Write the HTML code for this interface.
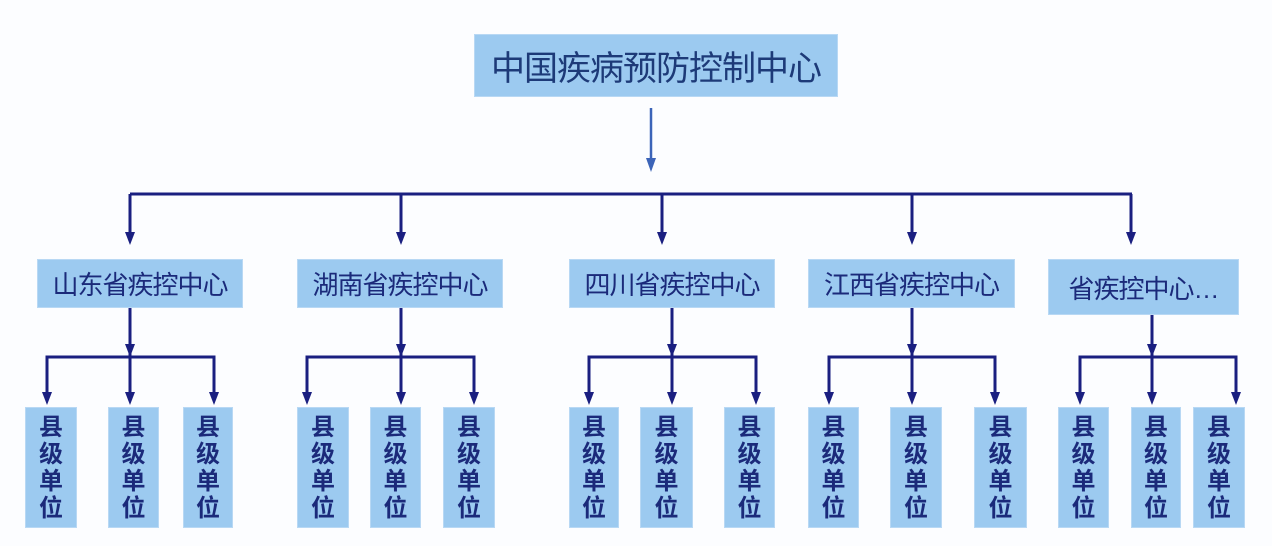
<!DOCTYPE html>
<html><head><meta charset="utf-8"><style>
body{margin:0;width:1272px;height:546px;background:#fcfdff;position:relative;overflow:hidden;font-family:"Liberation Sans","Noto Sans CJK SC",sans-serif}
.b{position:absolute;background:#9ccaf0;border:1px solid #b8d8f4;box-sizing:border-box;display:flex;align-items:center;justify-content:center;color:#1b2a7a;text-align:center}
.p{font-size:26px;letter-spacing:-1px}
.c{font-size:24px;font-weight:bold;line-height:27px;white-space:nowrap}
svg{position:absolute;left:0;top:0}
</style></head><body>
<svg width="1272" height="546">
<line x1="651" y1="108" x2="651" y2="160" stroke="#3c64b8" stroke-width="2.5"/>
<polygon points="646,158 656,158 651,172" fill="#3c64b8"/>
<g stroke="#1a1f80" stroke-width="3" fill="none">
<line x1="130" y1="194" x2="1132" y2="194"/>
<line x1="130" y1="194" x2="130" y2="235"/>
<line x1="401" y1="194" x2="401" y2="235"/>
<line x1="662" y1="194" x2="662" y2="235"/>
<line x1="912" y1="194" x2="912" y2="235"/>
<line x1="1131" y1="194" x2="1131" y2="235"/>
<line x1="130" y1="308" x2="130" y2="395"/>
<polyline points="47,395 47,357 214,357 214,395"/>
<line x1="401" y1="308" x2="401" y2="395"/>
<polyline points="307,395 307,357 474,357 474,395"/>
<line x1="672" y1="308" x2="672" y2="395"/>
<polyline points="589,395 589,357 756,357 756,395"/>
<line x1="912" y1="308" x2="912" y2="395"/>
<polyline points="829,395 829,357 995,357 995,395"/>
<line x1="1152" y1="315" x2="1152" y2="395"/>
<polyline points="1080,395 1080,357 1236,357 1236,395"/>
</g>
<g fill="#1a1f80">
<polygon points="125,232 135,232 130,245"/>
<polygon points="396,232 406,232 401,245"/>
<polygon points="657,232 667,232 662,245"/>
<polygon points="907,232 917,232 912,245"/>
<polygon points="1126,232 1136,232 1131,245"/>
<polygon points="125,344 135,344 130,357"/>
<polygon points="396,344 406,344 401,357"/>
<polygon points="667,344 677,344 672,357"/>
<polygon points="907,344 917,344 912,357"/>
<polygon points="1147,344 1157,344 1152,357"/>
<polygon points="42,392 52,392 47,405"/><polygon points="125,392 135,392 130,405"/><polygon points="209,392 219,392 214,405"/>
<polygon points="302,392 312,392 307,405"/><polygon points="396,392 406,392 401,405"/><polygon points="469,392 479,392 474,405"/>
<polygon points="584,392 594,392 589,405"/><polygon points="667,392 677,392 672,405"/><polygon points="751,392 761,392 756,405"/>
<polygon points="824,392 834,392 829,405"/><polygon points="907,392 917,392 912,405"/><polygon points="990,392 1000,392 995,405"/>
<polygon points="1075,392 1085,392 1080,405"/><polygon points="1147,392 1157,392 1152,405"/><polygon points="1231,392 1241,392 1236,405"/>
</g>
</svg>
<div class="b" style="left:474px;top:34px;width:364px;height:63px;font-size:34px;color:#1d3a78;letter-spacing:-1px">中国疾病预防控制中心</div>
<div class="b p" style="left:37px;top:259px;width:206px;height:49px">山东省疾控中心</div>
<div class="b p" style="left:297px;top:259px;width:206px;height:49px">湖南省疾控中心</div>
<div class="b p" style="left:569px;top:259px;width:206px;height:49px">四川省疾控中心</div>
<div class="b p" style="left:808px;top:259px;width:207px;height:49px">江西省疾控中心</div>
<div class="b p" style="left:1048px;top:259px;width:191px;height:56px">省疾控中心…</div>
<div class="b c" style="left:25px;top:407px;width:52px;height:121px">县<br>级<br>单<br>位</div>
<div class="b c" style="left:108px;top:407px;width:51px;height:121px">县<br>级<br>单<br>位</div>
<div class="b c" style="left:183px;top:407px;width:50px;height:121px">县<br>级<br>单<br>位</div>
<div class="b c" style="left:297px;top:407px;width:52px;height:121px">县<br>级<br>单<br>位</div>
<div class="b c" style="left:370px;top:407px;width:51px;height:121px">县<br>级<br>单<br>位</div>
<div class="b c" style="left:443px;top:407px;width:52px;height:121px">县<br>级<br>单<br>位</div>
<div class="b c" style="left:569px;top:407px;width:50px;height:121px">县<br>级<br>单<br>位</div>
<div class="b c" style="left:640px;top:407px;width:53px;height:121px">县<br>级<br>单<br>位</div>
<div class="b c" style="left:724px;top:407px;width:51px;height:121px">县<br>级<br>单<br>位</div>
<div class="b c" style="left:808px;top:407px;width:51px;height:121px">县<br>级<br>单<br>位</div>
<div class="b c" style="left:890px;top:407px;width:52px;height:121px">县<br>级<br>单<br>位</div>
<div class="b c" style="left:974px;top:407px;width:53px;height:121px">县<br>级<br>单<br>位</div>
<div class="b c" style="left:1058px;top:407px;width:51px;height:121px">县<br>级<br>单<br>位</div>
<div class="b c" style="left:1131px;top:407px;width:50px;height:121px">县<br>级<br>单<br>位</div>
<div class="b c" style="left:1193px;top:407px;width:52px;height:121px">县<br>级<br>单<br>位</div>
</body></html>
